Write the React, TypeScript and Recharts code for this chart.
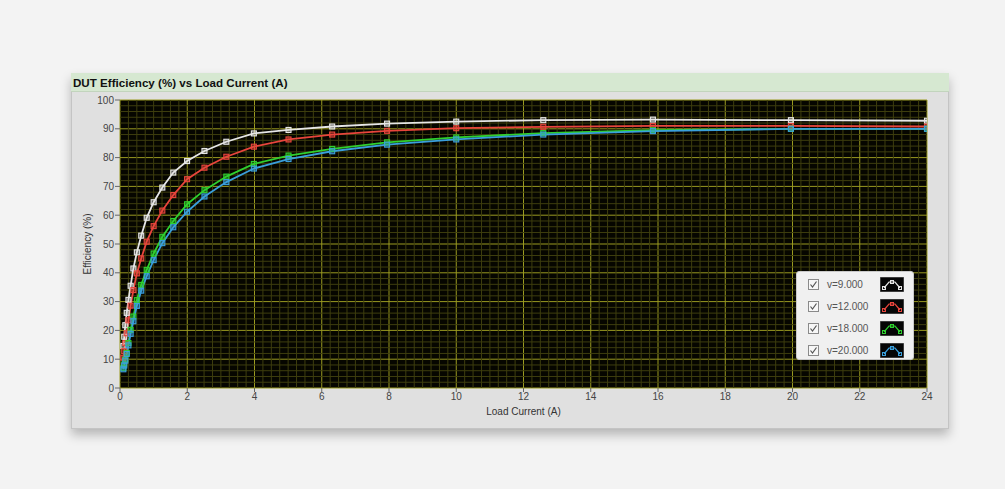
import { CartesianGrid, Legend, Line, LineChart, ReferenceLine, XAxis, YAxis } from "recharts";

// load current sweep (A), log-spaced
const loadCurrent = [
  0.1, 0.126, 0.158, 0.2, 0.251, 0.316, 0.398, 0.501, 0.631, 0.794, 1, 1.259, 1.585, 1.995, 2.512,
  3.162, 3.981, 5.012, 6.31, 7.943, 10, 12.589, 15.849, 19.953, 24,
];
const eff9 = [
  14.6, 17.8, 21.8, 26.1, 30.6, 35.5, 41.5, 47.1, 52.9, 59.1, 64.5, 69.6, 74.8, 78.8, 82.3, 85.5, 88.4,
  89.6, 90.8, 91.8, 92.5, 93, 93.2, 93, 92.8,
];
const eff12 = [
  10.5, 12.8, 15.6, 19, 23.5, 28.6, 34, 39.8, 45, 50.8, 56.2, 61.6, 67, 72.5, 76.5, 80.3, 83.8, 86.3,
  88, 89.3, 90.2, 90.7, 91, 91, 90.8,
];
const eff18 = [
  7, 8.2, 9.9, 12.2, 15.6, 20.2, 24.8, 30.5, 35.8, 41, 46.7, 52.5, 58, 63.8, 68.7, 73.4, 77.8, 80.7, 83,
  85.3, 87, 88.5, 89.5, 90, 90,
];
const eff20 = [
  6.5, 7.8, 9.5, 11.8, 14.8, 18.8, 23.2, 28.5, 33.8, 38.8, 44.4, 50.3, 55.8, 61.2, 66.5, 71.5, 76.2,
  79.5, 82.2, 84.5, 86.3, 88, 89.2, 90, 90,
];

const xTicks = [0, 2, 4, 6, 8, 10, 12, 14, 16, 18, 20, 22, 24];
const yTicks = [0, 10, 20, 30, 40, 50, 60, 70, 80, 90, 100];
// minor grid: 0.25 A and 2 % steps, skipping the major lines
const xMinor = Array.from({ length: 97 }, (_, i) => i * 0.25).filter((v) => v % 2 !== 0);
const yMinor = Array.from({ length: 51 }, (_, i) => i * 2).filter((v) => v % 10 !== 0);

const series = [
  { key: "v9", name: "v=9.000", color: "#e6e6e6" },
  { key: "v12", name: "v=12.000", color: "#e8453c" },
  { key: "v18", name: "v=18.000", color: "#2fd02f" },
  { key: "v20", name: "v=20.000", color: "#3a9fdc" },
];

const data = loadCurrent.map((x, i) => ({
  x,
  v9: eff9[i],
  v12: eff12[i],
  v18: eff18[i],
  v20: eff20[i],
}));

const font = "'Liberation Sans', Arial, sans-serif";
const minorColor = "#3e3e0e";

function squareDot(color: string) {
  return (props: any) => {
    const { cx, cy, index } = props;
    if (cx == null || cy == null) return <g key={index} />;
    return (
      <rect
        key={index}
        x={cx - 2.5}
        y={cy - 2.5}
        width={5}
        height={5}
        fill={color}
        fillOpacity={0.4}
        stroke={color}
        strokeWidth={1.1}
      />
    );
  };
}

function LegendIcon({ color }: { color: string }) {
  return (
    <svg width={24} height={15} style={{ display: "block" }}>
      <rect x={0} y={0} width={24} height={15} fill="#050505" stroke="#777" strokeWidth={1} />
      <polyline points="4,11 9,5 15,5 20,11" fill="none" stroke={color} strokeWidth={1.2} />
      <rect x={2.5} y={9.5} width={3} height={3} fill="none" stroke={color} />
      <rect x={10.5} y={3.5} width={3} height={3} fill="none" stroke={color} />
      <rect x={18.5} y={9.5} width={3} height={3} fill="none" stroke={color} />
    </svg>
  );
}

function CheckBox() {
  return (
    <svg width={11} height={11} style={{ display: "block" }}>
      <rect x={0.5} y={0.5} width={10} height={10} fill="#f7f7f7" stroke="#8a8a8a" />
      <polyline points="2.5,5.5 4.5,8 8.5,2.5" fill="none" stroke="#555" strokeWidth={1.2} />
    </svg>
  );
}

function LegendBox() {
  return (
    <div
      style={{
        width: 118,
        height: 89,
        background: "#f0f0f0",
        border: "1px solid #c9c9c9",
        borderRadius: 3,
        boxSizing: "border-box",
        paddingTop: 1,
        fontFamily: font,
      }}
    >
      {series.map((s) => (
        <div key={s.key} style={{ display: "flex", alignItems: "center", height: 22, position: "relative" }}>
          <div style={{ position: "absolute", left: 11 }}>
            <CheckBox />
          </div>
          <div style={{ position: "absolute", left: 30, fontSize: 10, color: "#555" }}>{s.name}</div>
          <div style={{ position: "absolute", left: 83 }}>
            <LegendIcon color={s.color} />
          </div>
        </div>
      ))}
    </div>
  );
}

export default function App() {
  return (
    <div
      style={{
        position: "absolute",
        left: 0,
        top: 0,
        width: 1005,
        height: 489,
        background: "#f3f3f3",
        overflow: "hidden",
      }}
    >
      {/* panel */}
      <div
        style={{
          position: "absolute",
          left: 71,
          top: 73,
          width: 878,
          height: 356,
          background: "#e0e0e0",
          border: "1px solid #c4c4c4",
          boxSizing: "border-box",
          boxShadow: "0 6px 10px rgba(0,0,0,0.25)",
        }}
      />
      <div
        style={{
          position: "absolute",
          left: 71,
          top: 73,
          width: 878,
          height: 19,
          background: "#d6e8d1",
          borderBottom: "1px solid #c2d4bd",
          boxSizing: "border-box",
          fontFamily: font,
          fontWeight: "bold",
          fontSize: 11.6,
          lineHeight: "19px",
          paddingLeft: 2,
          color: "#111",
        }}
      >
        DUT Efficiency (%) vs Load Current (A)
      </div>
      <div style={{ position: "absolute", left: 71, top: 92 }}>
        <LineChart width={878} height={337} data={data} margin={{ top: 8, right: 22, left: 8, bottom: 11 }}>
          <CartesianGrid fill="#060600" stroke="#9a9a20" strokeWidth={1} />
          {xMinor.map((v) => (
            <ReferenceLine key={`vx${v}`} x={v} stroke={minorColor} strokeWidth={1} />
          ))}
          {yMinor.map((v) => (
            <ReferenceLine key={`hy${v}`} y={v} stroke={minorColor} strokeWidth={1} />
          ))}
          <XAxis
            dataKey="x"
            type="number"
            domain={[0, 24]}
            ticks={xTicks}
            allowDataOverflow
            height={30}
            axisLine={false}
            tickSize={4}
            tickMargin={1}
            tickLine={{ stroke: "#666" }}
            tick={{ fontSize: 10, fill: "#444", fontFamily: font }}
            label={{
              value: "Load Current (A)",
              position: "insideBottom",
              offset: 3,
              style: { fontSize: 10, fill: "#333", fontFamily: font },
            }}
          />
          <YAxis
            type="number"
            domain={[0, 100]}
            ticks={yTicks}
            allowDataOverflow
            width={41}
            axisLine={false}
            tickSize={5}
            tickMargin={1}
            tickLine={{ stroke: "#666" }}
            tick={{ fontSize: 10, fill: "#444", fontFamily: font }}
            label={{
              value: "Efficiency (%)",
              angle: -90,
              position: "insideLeft",
              offset: 8,
              style: { fontSize: 10, fill: "#333", fontFamily: font, textAnchor: "middle" },
            }}
          />
          {series.map((s) => (
            <Line
              key={s.key}
              type="linear"
              dataKey={s.key}
              name={s.name}
              stroke={s.color}
              strokeWidth={1.8}
              dot={squareDot(s.color)}
              activeDot={false}
              isAnimationActive={false}
            />
          ))}
          <Legend
            layout="vertical"
            align="center"
            verticalAlign="middle"
            content={() => <LegendBox />}
            wrapperStyle={{ position: "absolute", left: 725, top: 179, width: 118, height: 89 }}
          />
        </LineChart>
      </div>
    </div>
  );
}
